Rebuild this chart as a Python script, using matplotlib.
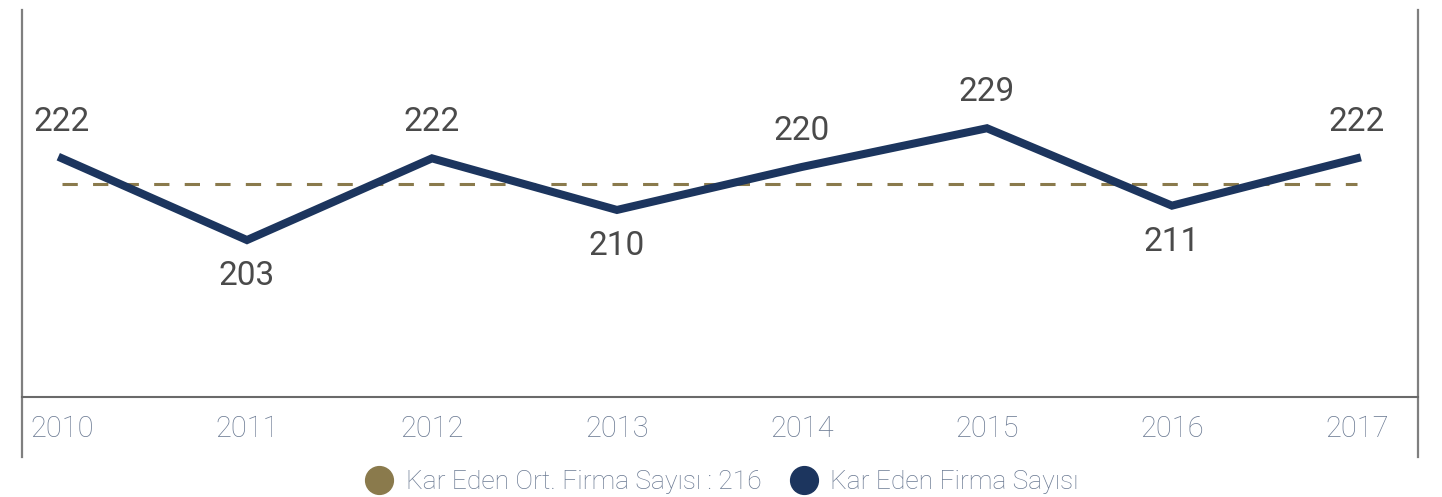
import matplotlib.pyplot as plt
from matplotlib.lines import Line2D

years = ['2010', '2011', '2012', '2013', '2014', '2015', '2016', '2017']
firm_count = [222, 203, 222, 210, 220, 229, 211, 222]
avg_count = 216

navy = '#1c355e'
gold = '#8a7a4c'
label_gray = '#6b7a93'

plt.rcParams['font.family'] = ['Roboto', 'DejaVu Sans']

fig = plt.figure(figsize=(14.42, 4.97), dpi=100)
ax = fig.add_axes([22 / 1442, 100 / 497, 1396 / 1442, 387 / 497])

x = list(range(len(years)))
ax.plot([x[0], x[-1]], [avg_count, avg_count], color=gold, lw=2.2,
        dashes=(5, 5), zorder=2)
ax.plot(x, firm_count, color=navy, lw=5.8, solid_joinstyle='miter', zorder=3)

for xi, v in zip(x, firm_count):
    off = 26 if v >= avg_count else -26
    ax.annotate(str(v), (xi, v), xytext=(0, off), textcoords='offset points',
                ha='center', va='center', fontsize=24, color='#4a4a4a',
                fontweight='normal')

ax.set_xlim(-0.216, 7.33)
ax.set_ylim(166.5, 256.5)
ax.set_yticks([])
ax.set_xticks(x)
ax.set_xticklabels(years, fontsize=21, color=label_gray, fontweight='light')
ax.tick_params(axis='x', length=0, pad=13)

for s in ['top', 'left', 'right']:
    ax.spines[s].set_visible(False)
ax.spines['bottom'].set_color('#6a6a6a')
ax.spines['bottom'].set_linewidth(1.5)

# side rules extend below the axis
for xs in [0, 1]:
    ax.plot([xs, xs], [-0.155, 1], transform=ax.transAxes, clip_on=False,
            color='#7f7f7f', lw=1.6)

handles = [
    Line2D([], [], marker='o', ls='none', markersize=20, color=gold),
    Line2D([], [], marker='o', ls='none', markersize=20, color=navy),
]
labels = [f'Kar Eden Ort. Firma Sayısı : {avg_count}', 'Kar Eden Firma Sayısı']
leg = fig.legend(handles, labels, loc='center', bbox_to_anchor=(0.5, 15 / 497),
                 ncol=2, frameon=False, fontsize=19, handletextpad=0.4,
                 columnspacing=1.0, handlelength=1.2)
for t in leg.get_texts():
    t.set_color(label_gray)
    t.set_fontweight('light')

fig.savefig('out.png', dpi=100)
